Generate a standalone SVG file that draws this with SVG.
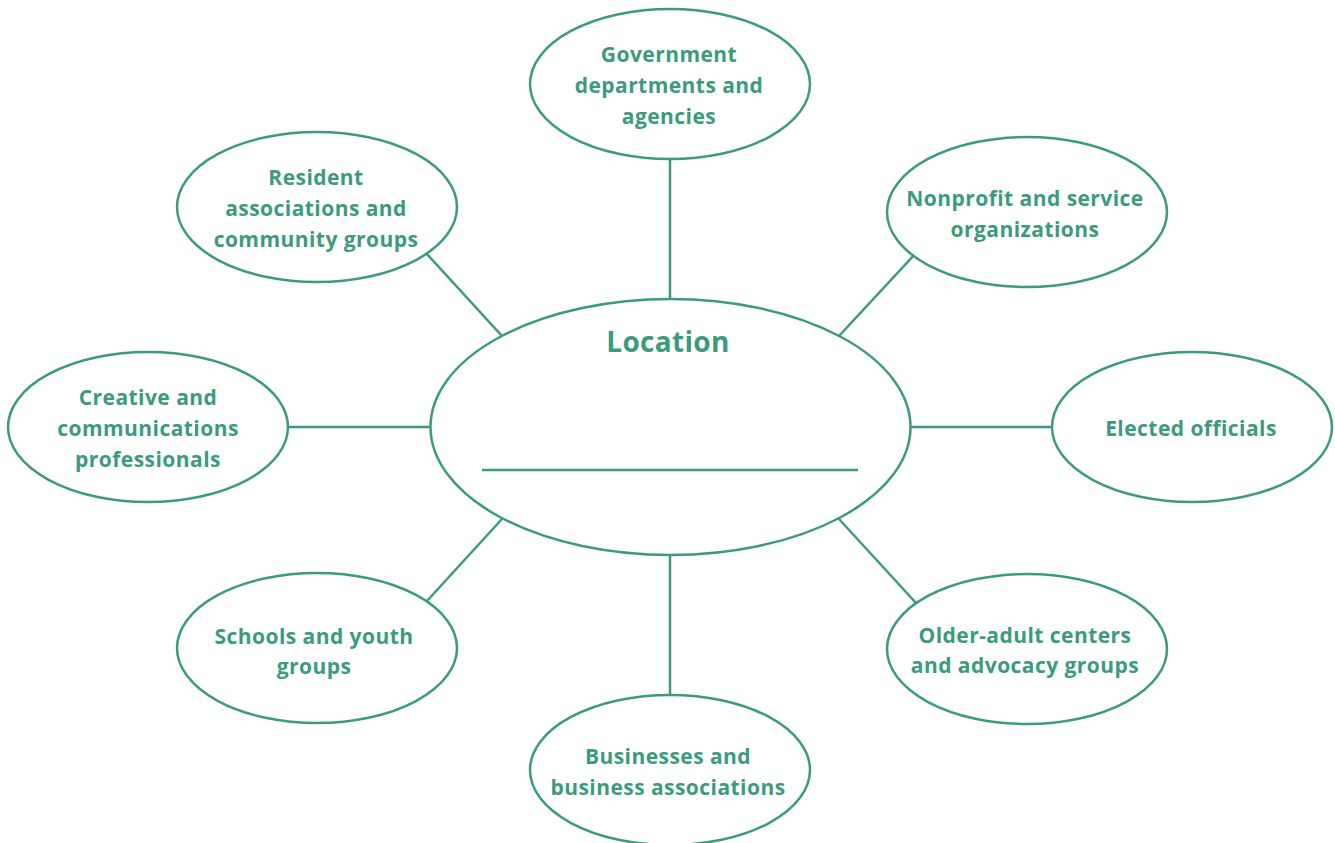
<svg xmlns="http://www.w3.org/2000/svg" width="1335" height="843" viewBox="0 0 1335 843">
<style>
.n{fill:#fff;stroke:#3b9b7c;stroke-width:2.5}
.c line{stroke:#3b9b7c;stroke-width:2.5}
text{font-family:"Open Sans","Liberation Sans",sans-serif;font-weight:700;fill:#3b9b7c;font-size:21px;letter-spacing:0.45px;text-anchor:middle}
</style>
<rect width="1335" height="843" fill="#fff"/>
<g class="c" id="connectors">
<line x1="670" y1="159" x2="670" y2="299"/>
<line x1="670" y1="556" x2="670" y2="695"/>
<line x1="288" y1="427" x2="430" y2="427"/>
<line x1="911" y1="427" x2="1052" y2="427"/>
<line x1="426" y1="253" x2="502" y2="336"/>
<line x1="916" y1="253" x2="839" y2="336"/>
<line x1="426" y1="602" x2="502" y2="519"/>
<line x1="916" y1="603" x2="839" y2="519"/>
</g>
<g id="location">
<ellipse class="n" cx="670.5" cy="427" rx="240" ry="128"/>
<text x="668" y="352" style="font-size:28px;letter-spacing:0.3px">Location</text>
<line x1="482" y1="470" x2="858" y2="470" stroke="#3b9b7c" stroke-width="2.5"/>
</g>
<g id="government">
<ellipse class="n" cx="670" cy="84" rx="140" ry="75"/>
<text x="669" y="62">Government</text>
<text x="669" y="93">departments and</text>
<text x="669" y="124">agencies</text>
</g>
<g id="resident">
<ellipse class="n" cx="317" cy="207" rx="140" ry="75"/>
<text x="316" y="185">Resident</text>
<text x="316" y="216">associations and</text>
<text x="316" y="247">community groups</text>
</g>
<g id="nonprofit">
<ellipse class="n" cx="1027" cy="212" rx="140" ry="75"/>
<text x="1025" y="206">Nonprofit and service</text>
<text x="1025" y="237">organizations</text>
</g>
<g id="creative">
<ellipse class="n" cx="148" cy="427" rx="140" ry="75"/>
<text x="148" y="405">Creative and</text>
<text x="148" y="436">communications</text>
<text x="148" y="467">professionals</text>
</g>
<g id="elected">
<ellipse class="n" cx="1192" cy="427" rx="140" ry="75"/>
<text x="1191" y="436">Elected officials</text>
</g>
<g id="schools">
<ellipse class="n" cx="317" cy="648" rx="140" ry="75"/>
<text x="314" y="644">Schools and youth</text>
<text x="314" y="674">groups</text>
</g>
<g id="older">
<ellipse class="n" cx="1027" cy="649" rx="140" ry="75"/>
<text x="1025" y="643">Older-adult centers</text>
<text x="1025" y="673">and advocacy groups</text>
</g>
<g id="businesses">
<ellipse class="n" cx="670" cy="770" rx="140" ry="75"/>
<text x="668" y="764">Businesses and</text>
<text x="668" y="795">business associations</text>
</g>
</svg>
